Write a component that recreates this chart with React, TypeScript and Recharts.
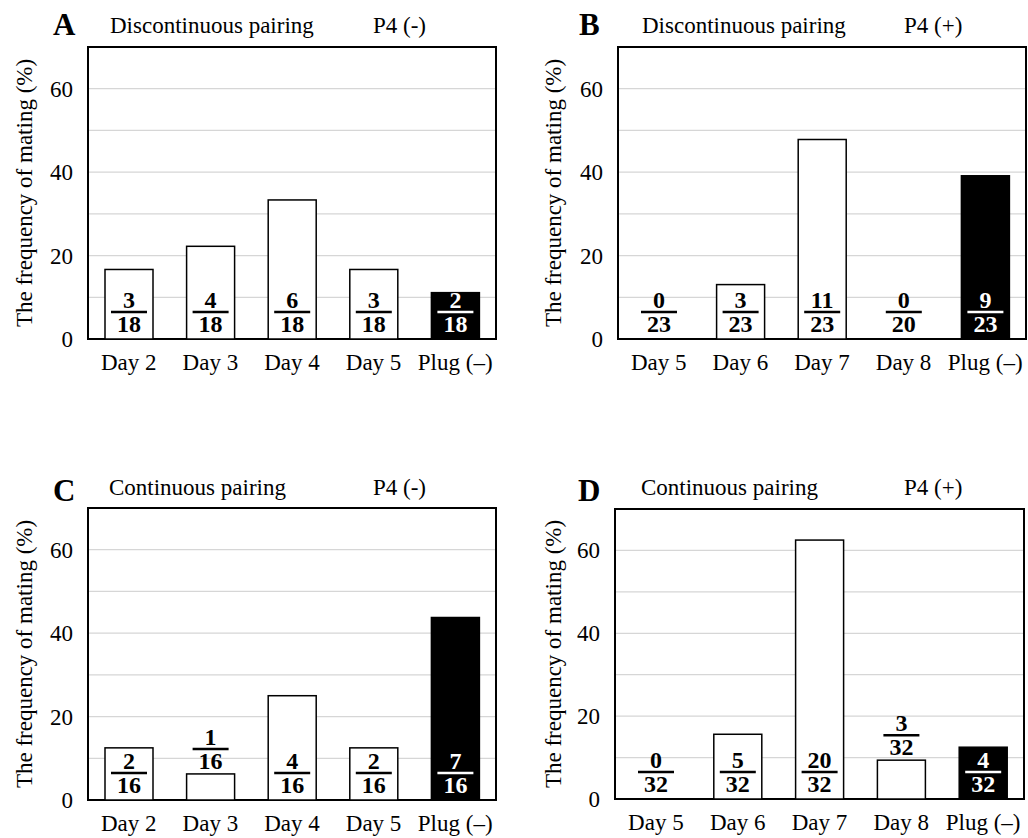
import React from 'react'
import {
  BarChart,
  Bar,
  XAxis,
  YAxis,
  CartesianGrid,
  ReferenceArea,
} from 'recharts'

const FONT = 'Liberation Serif, Tinos, DejaVu Serif, serif'

// categories
const earlyDays = ['Day 2', 'Day 3', 'Day 4', 'Day 5', 'Plug (–)']
const lateDays = ['Day 5', 'Day 6', 'Day 7', 'Day 8', 'Plug (–)']

// mated females / paired females per day
const matedA = [3, 4, 6, 3, 2]
const pairedA = [18, 18, 18, 18, 18]
const matedB = [0, 3, 11, 0, 9]
const pairedB = [23, 23, 23, 20, 23]
const matedC = [2, 1, 4, 2, 7]
const pairedC = [16, 16, 16, 16, 16]
const matedD = [0, 5, 20, 3, 4]
const pairedD = [32, 32, 32, 32, 32]

const gridTicks = [0, 10, 20, 30, 40, 50, 60, 70]
const labelTicks = [0, 20, 40, 60]

type PanelProps = {
  letter: string
  pairing: string
  p4: string
  categories: string[]
  mated: number[]
  paired: number[]
  left: number
  top: number
  axisWidth: number
  rightMargin: number
  topMargin: number
  xAxisHeight: number
  labelOffset: number
  letterX: number
  titleX: number
  p4X: number
  letterY: number
  titleY: number
}

const digitStyle = { fontFamily: FONT, fontSize: 24, fontWeight: 700 }

// bar + its "mated / paired" fraction drawn together
function FractionBar(props: any) {
  const { x, y, width, height } = props
  const row = props.payload ?? props
  const isPlug = String(row.cat).startsWith('Plug')
  const cx = x + width / 2
  const bottom = y + height
  const top = row.pct > 0 ? y : bottom
  const small = row.pct > 0 && row.pct < 10
  const lineY = small ? top - 25 : bottom - 27
  const color = isPlug ? '#fff' : '#000'
  return (
    <g>
      {row.pct > 0 && (
        <rect x={x} y={top} width={width} height={bottom - top}
          fill={isPlug ? '#000' : '#fff'} stroke="#000" strokeWidth={1.5} />
      )}
      <text x={cx} y={lineY - 4} textAnchor="middle" fill={color} style={digitStyle}>
        {row.mated}
      </text>
      <line x1={cx - 18} x2={cx + 18} y1={lineY} y2={lineY} stroke={color} strokeWidth={2.5} />
      <text x={cx} y={lineY + 20} textAnchor="middle" fill={color} style={digitStyle}>
        {row.paired}
      </text>
    </g>
  )
}

function Panel(p: PanelProps) {
  const rows = p.categories.map((cat, i) => ({
    cat,
    mated: p.mated[i],
    paired: p.paired[i],
    pct: (p.mated[i] / p.paired[i]) * 100,
  }))

  const renderYTick = (props: any) => {
    const v = props.payload.value
    if (!labelTicks.includes(v)) return <g />
    return (
      <text x={props.x} y={props.y} dy="0.35em" textAnchor="end" fill="#000"
        style={{ fontFamily: FONT, fontSize: 23 }}>
        {v}
      </text>
    )
  }

  return (
    <div style={{ position: 'absolute', left: p.left, top: p.top, width: 514, height: 400 }}>
      <BarChart
        width={514}
        height={400}
        data={rows}
        margin={{ top: p.topMargin, right: p.rightMargin, bottom: 0, left: 0 }}
        style={{ fontFamily: FONT }}
      >
        <CartesianGrid vertical={false} stroke="#d6d6d6" strokeWidth={1.2} />
        <XAxis
          dataKey="cat"
          interval={0}
          axisLine={false}
          tickLine={false}
          tickSize={0}
          tickMargin={15}
          height={p.xAxisHeight}
          tick={{ fill: '#000', fontSize: 23, fontFamily: FONT }}
        />
        <YAxis
          type="number"
          domain={[0, 70]}
          ticks={gridTicks}
          interval={0}
          axisLine={false}
          tickLine={false}
          tickSize={0}
          tickMargin={15}
          width={p.axisWidth}
          tick={renderYTick}
          label={{
            value: 'The frequency of mating (%)',
            angle: -90,
            position: 'insideLeft',
            offset: p.labelOffset,
            style: { textAnchor: 'middle', fontFamily: FONT, fontSize: 23, fill: '#000' },
          }}
        />
        <Bar dataKey="pct" barSize={48} minPointSize={1} shape={FractionBar} isAnimationActive={false} />
        <ReferenceArea y1={0} y2={70} fill="none" stroke="#000" strokeWidth={2} ifOverflow="visible" />
      </BarChart>
      <svg width={514} height={60} style={{ position: 'absolute', left: 0, top: 0, pointerEvents: 'none' }}>
        <text x={p.letterX} y={p.letterY} style={{ fontFamily: FONT, fontSize: 31, fontWeight: 700 }}>
          {p.letter}
        </text>
        <text x={p.titleX} y={p.titleY} style={{ fontFamily: FONT, fontSize: 23 }}>
          {p.pairing}
        </text>
        <text x={p.p4X} y={p.titleY} style={{ fontFamily: FONT, fontSize: 23 }}>
          {p.p4}
        </text>
      </svg>
    </div>
  )
}

export default function App() {
  return (
    <div style={{ position: 'absolute', left: 0, top: 0, width: 1028, height: 838, background: '#fff', fontFamily: FONT }}>
      <Panel
        letter="A" pairing="Discontinuous pairing" p4="P4 (-)"
        categories={earlyDays} mated={matedA} paired={pairedA}
        left={0} top={0} axisWidth={88} rightMargin={18} topMargin={47} xAxisHeight={61}
        labelOffset={24} letterX={53} titleX={110} p4X={373} letterY={35} titleY={33}
      />
      <Panel
        letter="B" pairing="Discontinuous pairing" p4="P4 (+)"
        categories={lateDays} mated={matedB} paired={pairedB}
        left={514} top={0} axisWidth={104} rightMargin={2} topMargin={47} xAxisHeight={61}
        labelOffset={39} letterX={65} titleX={128} p4X={390} letterY={35} titleY={33}
      />
      <Panel
        letter="C" pairing="Continuous pairing" p4="P4 (-)"
        categories={earlyDays} mated={matedC} paired={pairedC}
        left={0} top={460} axisWidth={88} rightMargin={18} topMargin={48} xAxisHeight={60}
        labelOffset={24} letterX={53} titleX={109} p4X={373} letterY={41} titleY={35}
      />
      <Panel
        letter="D" pairing="Continuous pairing" p4="P4 (+)"
        categories={lateDays} mated={matedD} paired={pairedD}
        left={514} top={460} axisWidth={101} rightMargin={4} topMargin={49} xAxisHeight={61}
        labelOffset={39} letterX={64} titleX={127} p4X={390} letterY={41} titleY={35}
      />
    </div>
  )
}
